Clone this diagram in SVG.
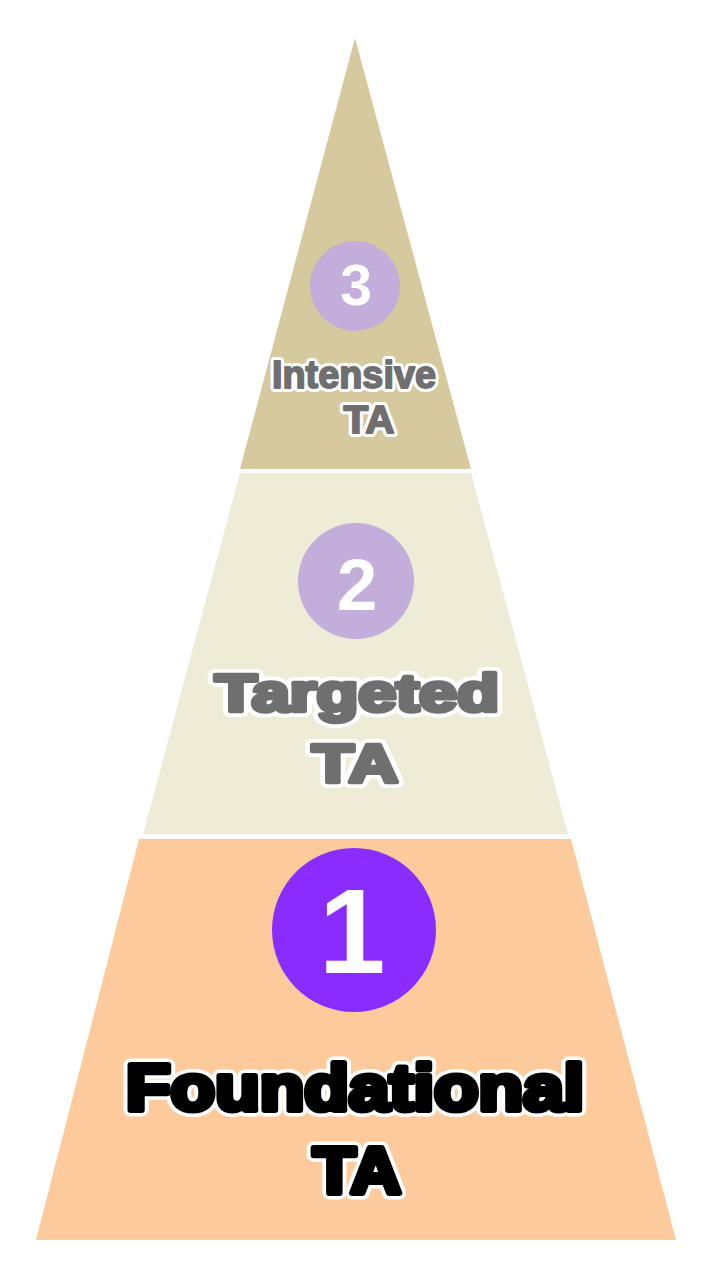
<svg xmlns="http://www.w3.org/2000/svg" width="711" height="1280" viewBox="0 0 711 1280">
  <style>
    .lbl { font-family: "Liberation Sans", Arial, sans-serif; font-weight: bold; text-anchor: middle; }
    .halo { fill: #ffffff; stroke: #ffffff; stroke-linejoin: round; }
    .gray { fill: #6f6f6f; stroke: #6f6f6f; stroke-linejoin: round; }
    .black { fill: #000000; stroke: #000000; stroke-linejoin: round; }
    .digit { font-family: "Liberation Sans", Arial, sans-serif; font-weight: bold; text-anchor: middle; fill: #ffffff; }
  </style>
  <rect x="0" y="0" width="711" height="1280" fill="#ffffff"/>

  <g id="tier-intensive">
    <polygon points="355,38 471,469 240,469" fill="#D5C99D"/>
    <circle cx="355" cy="286" r="45" fill="#C2ADDB"/>
    <text class="digit" x="356" y="305" font-size="57">3</text>
    <text class="lbl halo" x="354" y="388" font-size="39" stroke-width="8" textLength="164" lengthAdjust="spacingAndGlyphs">Intensive</text>
    <text class="lbl gray" x="354" y="388" font-size="39" stroke-width="1.8" textLength="164" lengthAdjust="spacingAndGlyphs">Intensive</text>
    <text class="lbl halo" x="369" y="433" font-size="39" stroke-width="8" textLength="51" lengthAdjust="spacingAndGlyphs">TA</text>
    <text class="lbl gray" x="369" y="433" font-size="39" stroke-width="1.8" textLength="51" lengthAdjust="spacingAndGlyphs">TA</text>
  </g>

  <g id="tier-targeted">
    <polygon points="240,473 471,473 568,834 143,834" fill="#EEEBD7"/>
    <circle cx="356" cy="581" r="58" fill="#C2ADDB"/>
    <text class="digit" x="357" y="610" font-size="73">2</text>
    <text class="lbl halo" x="357" y="711" font-size="51" stroke-width="12" textLength="284" lengthAdjust="spacingAndGlyphs">Targeted</text>
    <text class="lbl gray" x="357" y="711" font-size="51" stroke-width="4.5" textLength="284" lengthAdjust="spacingAndGlyphs">Targeted</text>
    <text class="lbl halo" x="355" y="782" font-size="53" stroke-width="12" textLength="86" lengthAdjust="spacingAndGlyphs">TA</text>
    <text class="lbl gray" x="355" y="782" font-size="53" stroke-width="4.5" textLength="86" lengthAdjust="spacingAndGlyphs">TA</text>
  </g>

  <g id="tier-foundational">
    <polygon points="139,839 571,839 676,1240 36,1240" fill="#FDCB9B"/>
    <circle cx="354" cy="930" r="82" fill="#8A2BFF"/>
    <text class="digit" x="352" y="973" font-size="120">1</text>
    <text class="lbl halo" x="355" y="1110" font-size="65" stroke-width="13" textLength="458" lengthAdjust="spacingAndGlyphs">Foundational</text>
    <text class="lbl black" x="355" y="1110" font-size="65" stroke-width="6" textLength="458" lengthAdjust="spacingAndGlyphs">Foundational</text>
    <text class="lbl halo" x="357" y="1193" font-size="65" stroke-width="13" textLength="88" lengthAdjust="spacingAndGlyphs">TA</text>
    <text class="lbl black" x="357" y="1193" font-size="65" stroke-width="6" textLength="88" lengthAdjust="spacingAndGlyphs">TA</text>
  </g>

  <g id="connectors"></g>
</svg>
